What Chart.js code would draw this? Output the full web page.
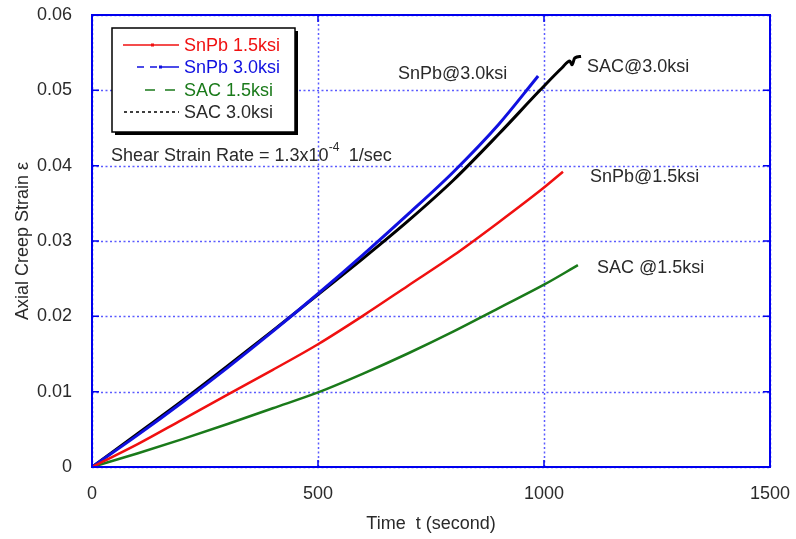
<!DOCTYPE html>
<html>
<head>
<meta charset="utf-8">
<script src="https://cdn.jsdelivr.net/npm/chart.js@4/dist/chart.umd.min.js"></script>
<style>
    html, body { margin: 0; padding: 0; background: #fff; }
    #wrap { width: 796px; height: 539px; position: relative; }
</style>
</head>
<body>
<div id="wrap"><canvas id="chart"></canvas></div>
<script>
// time (s) and axial creep strain
const snpb15T = [0, 100, 200, 300, 400, 500, 600, 700, 800, 900, 1000, 1042];
const snpb15E = [0, 0.003, 0.0063, 0.0096, 0.0129, 0.0163, 0.0201, 0.0241, 0.0281, 0.0325, 0.0371, 0.0392];

const snpb30T = [0, 100, 200, 300, 400, 500, 600, 700, 800, 900, 975, 987];
const snpb30E = [0, 0.0042, 0.0086, 0.0132, 0.018, 0.023, 0.0282, 0.0336, 0.0392, 0.0455, 0.0510, 0.0519];

const sac15T = [0, 100, 200, 300, 400, 500, 600, 700, 800, 900, 1000, 1075];
const sac15E = [0, 0.0018, 0.0037, 0.0057, 0.0078, 0.0099, 0.0124, 0.0151, 0.018, 0.0211, 0.0242, 0.0268];

const sac30T = [0, 100, 200, 300, 400, 500, 600, 700, 800, 900, 991, 1040, 1057, 1062, 1068, 1082];
const sac30E = [0, 0.0044, 0.0088, 0.0134, 0.0181, 0.0229, 0.0277, 0.0327, 0.0381, 0.0442, 0.050, 0.0530, 0.0539, 0.0534, 0.0543, 0.0545];

const xTicks = [0, 500, 1000, 1500];
const yTicks = [0, 0.01, 0.02, 0.03, 0.04, 0.05, 0.06];

const seriesNames = ['SnPb 1.5ksi', 'SnPb 3.0ksi', 'SAC 1.5ksi', 'SAC 3.0ksi'];
const seriesColors = ['#f01010', '#1010e0', '#1a7a1a', '#000000'];
const curveLabels = ['SnPb@1.5ksi', 'SnPb@3.0ksi', 'SAC @1.5ksi', 'SAC@3.0ksi'];

const FONT = '"Liberation Sans", Arial, sans-serif';
const TXT = '#2a2a2a';

function toPoints(ts, es) {
    return ts.map((t, i) => ({ x: t, y: es[i] }));
}

// dotted grid under the curves
const gridPlugin = {
    id: 'dotgrid',
    beforeDatasetsDraw(chart) {
        const { ctx, chartArea: a, scales } = chart;
        ctx.save();
        ctx.strokeStyle = 'rgba(50,50,255,0.8)';
        ctx.lineWidth = 1.5;
        ctx.setLineDash([2, 2.5]);
        yTicks.forEach(v => {
            const y = Math.round(scales.y.getPixelForValue(v)) + 0.5;
            ctx.beginPath();
            ctx.moveTo(a.left, y); ctx.lineTo(a.right, y);
            ctx.stroke();
        });
        xTicks.forEach(v => {
            const x = Math.round(scales.x.getPixelForValue(v)) + 0.5;
            ctx.beginPath();
            ctx.moveTo(x, a.top); ctx.lineTo(x, a.bottom);
            ctx.stroke();
        });
        ctx.restore();
    }
};

// frame, inner ticks, legend box and curve notes
const decorPlugin = {
    id: 'decor',
    afterDraw(chart) {
        const { ctx, chartArea: a, scales } = chart;
        const xs = scales.x, ys = scales.y;
        ctx.save();

        ctx.strokeStyle = '#0000ee';
        ctx.lineWidth = 2;
        ctx.setLineDash([]);
        ctx.strokeRect(a.left, a.top, a.right - a.left, a.bottom - a.top);

        ctx.lineWidth = 1.5;
        yTicks.forEach(v => {
            const y = ys.getPixelForValue(v);
            ctx.beginPath();
            ctx.moveTo(a.left, y); ctx.lineTo(a.left + 7, y);
            ctx.moveTo(a.right, y); ctx.lineTo(a.right - 7, y);
            ctx.stroke();
        });
        xTicks.forEach(v => {
            const x = xs.getPixelForValue(v);
            ctx.beginPath();
            ctx.moveTo(x, a.bottom); ctx.lineTo(x, a.bottom - 7);
            ctx.moveTo(x, a.top); ctx.lineTo(x, a.top + 7);
            ctx.stroke();
        });

        // legend box with drop shadow
        const bx = 112, by = 28, bw = 183, bh = 104;
        ctx.fillStyle = '#000';
        ctx.fillRect(bx + 3, by + 3, bw, bh);
        ctx.fillStyle = '#fff';
        ctx.fillRect(bx, by, bw, bh);
        ctx.strokeStyle = '#000';
        ctx.lineWidth = 1.5;
        ctx.strokeRect(bx, by, bw, bh);

        const dashes = [[], [7, 6], [10, 10], [3, 3]];
        const startX = [123, 137, 145, 124];
        const rowY = [45, 67, 90, 112];
        ctx.font = '18px ' + FONT;
        ctx.textBaseline = 'middle';
        seriesNames.forEach((name, i) => {
            ctx.strokeStyle = seriesColors[i];
            ctx.lineWidth = 1.5;
            ctx.setLineDash(dashes[i]);
            ctx.beginPath();
            ctx.moveTo(startX[i], rowY[i]);
            ctx.lineTo(i === 1 ? 160 : 179, rowY[i]);
            ctx.stroke();
            ctx.setLineDash([]);
            if (i === 1) {
                ctx.beginPath();
                ctx.moveTo(160, rowY[i]); ctx.lineTo(179, rowY[i]);
                ctx.stroke();
            }
            if (i < 2) {
                ctx.fillStyle = seriesColors[i];
                ctx.fillRect(i === 0 ? 151 : 159, rowY[i] - 1.5, 3, 3);
            }
            ctx.fillStyle = i === 3 ? TXT : seriesColors[i];
            ctx.fillText(name, 184, rowY[i] + 1);
        });

        // shear strain rate note
        ctx.fillStyle = TXT;
        ctx.font = '18px ' + FONT;
        const base = 'Shear Strain Rate = 1.3x10';
        ctx.fillText(base, 111, 156);
        const w = ctx.measureText(base).width;
        ctx.font = '12px ' + FONT;
        ctx.fillText('-4', 111 + w, 148);
        ctx.font = '18px ' + FONT;
        ctx.fillText('1/sec', 111 + w + 20, 156);

        // curve labels
        ctx.fillText(curveLabels[1], 398, 74);
        ctx.fillText(curveLabels[3], 587, 67);
        ctx.fillText(curveLabels[0], 590, 177);
        ctx.fillText(curveLabels[2], 597, 268);

        ctx.restore();
    }
};

const lineDatasets = [
    { ts: snpb15T, es: snpb15E, w: 2.5 },
    { ts: snpb30T, es: snpb30E, w: 3 },
    { ts: sac15T, es: sac15E, w: 2.5 },
    { ts: sac30T, es: sac30E, w: 3 }
].map((s, i) => ({
    label: seriesNames[i],
    data: toPoints(s.ts, s.es),
    borderColor: seriesColors[i],
    backgroundColor: seriesColors[i],
    borderWidth: s.w,
    pointRadius: 0,
    cubicInterpolationMode: 'monotone',
    fill: false
}));

new Chart(document.getElementById('chart'), {
    type: 'line',
    data: { datasets: lineDatasets },
    options: {
        responsive: true,
        maintainAspectRatio: false,
        animation: false,
        layout: { padding: { left: 0, right: 26, top: 15, bottom: 0 } },
        plugins: {
            legend: { display: false },
            tooltip: { enabled: false }
        },
        scales: {
            x: {
                type: 'linear',
                min: 0,
                max: 1500,
                afterBuildTicks: s => { s.ticks = xTicks.map(v => ({ value: v })); },
                afterFit: s => {
                    s.height = 72;
                    s.paddingLeft = 0;
                    s.paddingRight = 0;
                },
                ticks: {
                    color: TXT,
                    font: { family: FONT, size: 18 },
                    padding: 8,
                    maxRotation: 0,
                    callback: v => String(v)
                },
                grid: { display: false },
                border: { display: false },
                title: {
                    display: true,
                    text: 'Time  t (second)',
                    color: TXT,
                    font: { family: FONT, size: 18 },
                    padding: { top: 10 }
                }
            },
            y: {
                type: 'linear',
                min: 0,
                max: 0.06,
                afterBuildTicks: s => { s.ticks = yTicks.map(v => ({ value: v })); },
                afterFit: s => {
                    s.width = 92;
                    s.paddingTop = 0;
                    s.paddingBottom = 0;
                },
                ticks: {
                    color: TXT,
                    font: { family: FONT, size: 18 },
                    padding: 12,
                    callback: v => String(Math.round(v * 100) / 100)
                },
                grid: { display: false },
                border: { display: false },
                title: {
                    display: true,
                    text: 'Axial Creep Strain \u03b5',
                    color: TXT,
                    font: { family: FONT, size: 18 },
                    padding: { top: 12, bottom: 0 }
                }
            }
        }
    },
    plugins: [gridPlugin, decorPlugin]
});
</script>
</body>
</html>
